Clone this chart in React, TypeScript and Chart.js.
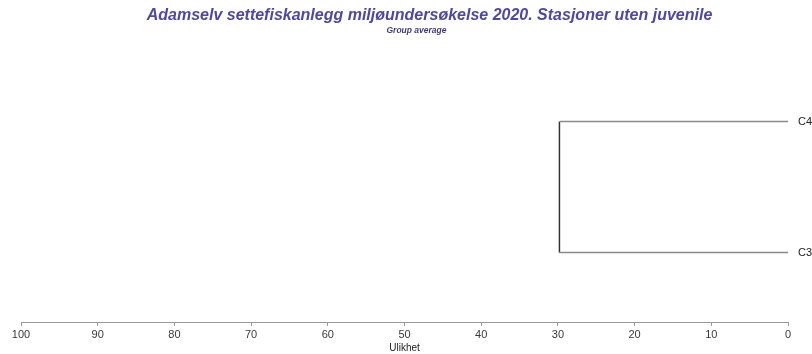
import React, { useEffect, useRef } from "react";
import { Chart, registerables } from "chart.js";

Chart.register(...registerables);

const titleText = "Adamselv settefiskanlegg miljøundersøkelse 2020. Stasjoner uten juvenile";
const subtitleText = "Group average";
const axisTitle = "Ulikhet";
const leafLabels = ["C3", "C4"];
const leafPositions = [1, 2];
const joinHeight = 29.8;
const xTicks = [0, 10, 20, 30, 40, 50, 60, 70, 80, 90, 100];

const titleShift = {
  id: "titleShift",
  afterLayout(chart: any) {
    if (chart.titleBlock) {
      chart.titleBlock.left += 26;
    }
  },
};

export default function App() {
  const ref = useRef<HTMLCanvasElement | null>(null);

  useEffect(() => {
    if (!ref.current) return;
    const branchData = leafPositions.map((y) => [
      { x: 0, y },
      { x: joinHeight, y },
    ]);
    const joinData = [
      { x: joinHeight, y: leafPositions[0] },
      { x: joinHeight, y: leafPositions[1] },
    ];
    const chart = new Chart(ref.current, {
      type: "scatter",
      data: {
        datasets: [
          ...branchData.map((d, i) => ({
            label: leafLabels[i],
            data: d,
            showLine: true,
            borderColor: "#8a8a8a",
            borderWidth: 1.5,
            pointRadius: 0,
          })),
          {
            label: "join",
            data: joinData,
            showLine: true,
            borderColor: "#333333",
            borderWidth: 1.5,
            pointRadius: 0,
          },
        ],
      },
      plugins: [titleShift],
      options: {
        animation: false,
        responsive: false,
        maintainAspectRatio: false,
        layout: { padding: { left: 21, right: 0, top: 0, bottom: 0 } },
        plugins: {
          legend: { display: false },
          tooltip: { enabled: false },
          title: {
            display: true,
            text: titleText,
            color: "#4d48a6",
            font: { family: "'Liberation Sans', Arial, sans-serif", size: 16, style: "italic", weight: "bold" },
            padding: { top: 6, bottom: 0 },
          },
          subtitle: {
            display: true,
            text: subtitleText,
            color: "#3e3a86",
            font: { family: "'Liberation Sans', Arial, sans-serif", size: 8.5, style: "italic", weight: "bold" },
            padding: { top: 0, bottom: 24.6 },
          },
        },
        scales: {
          x: {
            type: "linear",
            min: 0,
            max: 100,
            reverse: true,
            afterBuildTicks: (scale: any) => {
              scale.ticks = xTicks.map((v) => ({ value: v }));
            },
            afterFit: (scale: any) => {
              scale.height = 32;
            },
            border: { display: true, color: "#9a9a9a", width: 1 },
            grid: { display: true, drawOnChartArea: false, drawTicks: true, tickLength: 4, color: "#9a9a9a" },
            ticks: {
              color: "#3a3a3a",
              padding: 2,
              maxRotation: 0,
              font: { family: "'Liberation Sans', Arial, sans-serif", size: 11 },
            },
            title: {
              display: true,
              text: axisTitle,
              color: "#222222",
              padding: { top: 0, bottom: 0 },
              font: { family: "'Liberation Sans', Arial, sans-serif", size: 10 },
            },
          },
          y: {
            type: "linear",
            position: "right",
            min: 0.47,
            max: 2.47,
            afterBuildTicks: (scale: any) => {
              scale.ticks = leafPositions.map((v) => ({ value: v }));
            },
            afterFit: (scale: any) => {
              scale.width = 24;
            },
            border: { display: false },
            grid: { display: false, drawTicks: false },
            ticks: {
              padding: 10,
              color: "#222222",
              font: { family: "'Liberation Sans', Arial, sans-serif", size: 11 },
              callback: (value: any) => {
                const idx = leafPositions.indexOf(Number(value));
                return idx >= 0 ? leafLabels[idx] : "";
              },
            },
          },
        },
      },
    });
    return () => chart.destroy();
  }, []);

  return (
    <div style={{ position: "fixed", left: 0, top: 0, width: 812, height: 354, background: "#ffffff" }}>
      <canvas ref={ref} width={812} height={354} style={{ width: 812, height: 354, display: "block" }} />
    </div>
  );
}
